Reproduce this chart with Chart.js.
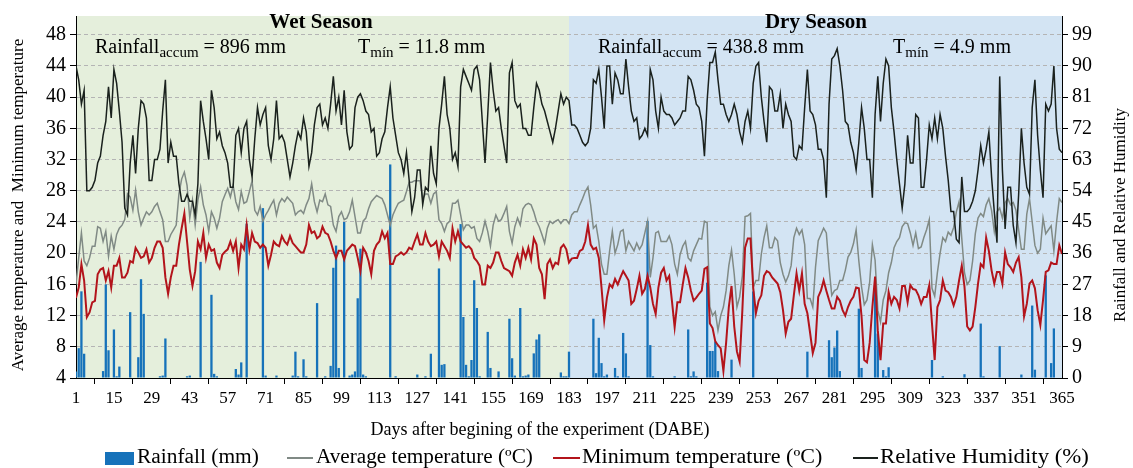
<!DOCTYPE html>
<html>
<head>
<meta charset="utf-8">
<script src="https://cdn.jsdelivr.net/npm/chart.js"></script>
<style>
  body { margin: 0; background: #fff; }
  #wrap { width: 1133px; height: 468px; }
</style>
</head>
<body>
<div id="wrap"><canvas id="climateChart"></canvas></div>
<script>
// days after beginning of the experiment
const days = [];
for (let d = 1; d <= 365; d++) days.push(d);

const dayTicks = [1, 15, 29, 43, 57, 71, 85, 99, 113, 127, 141, 155, 169, 183, 197, 211, 225, 239, 253, 267, 281, 295, 309, 323, 337, 351, 365];
const tempTicks = [4, 8, 12, 16, 20, 24, 28, 32, 36, 40, 44, 48];
const rightTicks = [0, 9, 18, 27, 36, 45, 54, 63, 72, 81, 90, 99];

// relative humidity (%)
const relHumidity = [
  90,86,79,83,54,54,55,57,62,64,70,74,84,75,89,85,77,68,49,47,
  62,70,59,72,80,79,75,57,57,63,63,66,77,86,62,68,64,64,56,51,
  51,53,51,51,47,56,80,74,69,63,83,78,69,71,67,65,62,55,55,70,
  72,65,72,74,63,58,69,78,73,76,78,67,63,69,80,69,70,68,63,58,
  62,67,71,69,75,71,61,65,73,78,79,73,75,72,79,87,77,81,73,83,
  71,66,67,78,81,82,80,77,76,71,72,64,65,69,71,78,84,75,70,65,
  63,59,65,57,48,52,60,60,50,55,54,67,59,56,72,79,87,76,72,63,
  65,61,84,89,87,85,83,89,90,86,74,62,76,91,83,77,78,72,67,62,
  88,91,80,78,79,72,72,70,70,78,85,83,79,77,74,71,68,72,77,82,
  79,81,80,73,73,72,70,68,67,68,72,86,85,89,81,72,90,90,79,88,
  86,82,82,92,84,77,74,75,69,70,72,70,89,86,77,72,81,77,76,76,
  75,73,74,75,77,77,87,86,83,79,78,74,64,80,91,91,94,86,79,79,
  76,74,76,79,76,71,68,74,77,72,85,90,91,81,74,68,84,83,77,77,
  82,72,79,76,74,64,63,67,66,78,89,77,76,73,66,66,63,52,79,92,
  93,95,90,83,74,73,68,65,60,68,78,72,63,63,52,76,87,74,85,92,
  90,78,71,63,56,49,56,70,62,62,76,75,55,55,63,73,69,75,69,76,
  72,64,57,48,48,40,39,58,48,48,49,51,54,60,67,62,66,71,58,48,
  39,87,60,43,55,55,44,39,53,72,62,55,53,78,86,70,60,52,79,77,
  79,90,72,66,65
];

// average temperature (ºC)
const avgTemp = [
  16,19.4,22.6,19,18.4,19.4,20.9,20.9,23.4,23.2,21.5,22.8,19.6,22.2,20.5,22.4,23.2,23.6,24.3,27.6,
  27.2,25.5,28.1,25.3,23.6,24.5,25.3,24.9,25.3,26,26.4,25.3,24.3,21.5,21.5,22.4,23,23.6,27.6,29.5,
  30.4,28.7,24.5,26.8,23.6,26.8,28.5,26.2,24.9,22.8,25.3,24.5,23.2,24.5,26.6,27.5,28.3,27.2,28.7,26.6,
  25.6,27.9,26.4,26.6,27.9,29.3,25.5,24.9,26,24.1,24.9,25.5,26.2,26.8,24.9,26.4,27,26.6,27.2,26.8,
  26.4,24.9,25.3,25.5,25.1,26.2,27,28.9,26.6,25.3,26.8,26.6,27.6,26.2,26,23.6,22.8,24.7,25.3,24.3,
  24.5,25.3,26.8,24.7,22.6,22.6,24.1,24.5,25.7,26.6,27,27.4,27.2,27,26.2,24.9,23.6,24.9,25.7,26.4,
  26.6,26.8,27.9,29.1,29.1,29.3,29.3,29.3,27,27.6,27.6,26.4,27.6,27.9,24.3,23.8,22.8,23.8,24.1,26.4,
  26.4,26.8,24.9,23,23.6,23.6,23.2,23.4,21.9,21.5,22.6,24.1,22.8,20.9,23.6,24.9,24.1,24.3,25.1,26,
  22.8,21.3,23.4,24.5,23.6,25.7,26.2,26.4,26.2,25.3,24.1,23.4,22.4,21.3,23.2,24.1,23.8,24.1,24.3,23.8,
  24.3,24.3,23.8,24.9,25.3,25.3,26.2,27,27.9,28.5,26.2,23.2,23.6,21.5,18.6,17.3,17.3,20.3,22.8,20,
  21.1,22.8,23,20.3,21.5,20.9,20.3,21.3,20.5,21.1,22.6,24.1,16.9,19.4,22.6,22.8,21.5,21.5,21.5,22.2,
  21.1,18.6,17.3,19.8,20.9,21.5,19.4,19,20.3,21.1,21.9,21.8,24.1,23.9,13.1,12,12.5,10.1,12,13.1,
  15.2,18.4,20.4,17.3,13.1,14.4,17.1,24.7,24.8,25.1,15.6,16.5,16.5,19.9,22,23.5,20.7,20.7,22,21.6,
  18.8,17.3,16.3,17.1,18.4,22,23.2,22.4,23,21.1,14.2,14.2,13.1,18.2,21.6,22.4,23.2,22.6,18.2,14.6,
  15.2,15.4,16.5,16.5,17.8,19.5,20.1,21.2,23,19,15.7,13.4,14,16.3,21.1,19.1,12.7,11.2,14,15.2,
  17.5,18.8,20.7,21.5,22,23.4,23.9,23.8,22.6,21,22.6,20.6,20.8,22,23,24.3,15.5,14.5,17.5,20,
  22,21.5,22.7,22.3,23.3,25.3,26.6,21.9,17.5,16,16.5,19,22.5,24.5,25.1,24.7,26.2,27,25.5,22.8,
  25.3,25.8,24.5,26.5,27,26.2,26.5,25.5,23,20.5,20.5,25,27,24,21,20,20.5,24.5,22.5,23,
  23.5,20.3,24,27,26.5
];

// minimum temperature (ºC)
const minTemp = [
  14.3,15.6,18.6,16.5,11.8,12.4,13.7,13.9,17.3,17.9,18.1,16.5,17.7,15.6,18.4,18.4,19.4,16.9,16.9,17.5,
  19,18.8,20.7,20.1,19.4,19.6,20.5,18.8,19.4,20.7,21.5,21.5,20.7,16.9,14.8,16.9,18.4,18.4,21.1,23.2,
  25.1,21.5,17.9,15.8,17.7,21.5,20.5,22.6,19.4,21.1,20.3,20.5,18.8,18.1,19.8,20.2,20.5,21.5,20.3,21.5,
  18.1,21.1,20.5,23.6,20.5,22.6,21.5,21.3,20.7,21.1,20.7,18.4,19.8,21.5,21.1,20.9,22.2,21.5,21.1,22.2,
  21.3,20.9,20.5,20.1,20.1,21.1,23.6,22.6,22.8,21.9,22.2,23.4,22.6,22.4,21.5,20.3,19.4,20.3,20.3,19.2,
  20.3,20.7,21.1,20.9,19.4,17.7,20.7,20.1,19,17.3,20.3,21.1,21.5,22.8,21.9,22.6,18.6,18.6,19.6,19.8,
  20.1,19.8,20.1,20.7,20.5,21.5,22.4,21.1,21.1,22.6,21.5,20.9,21.1,21.5,19.6,21.5,20.9,20.3,19.4,23.2,
  21.5,22.8,21.5,21.1,20.7,20.9,20.5,19.4,19,18.4,16,16,18.4,18.1,18.8,20.1,20.1,19,18.1,17.9,
  17.7,17.1,18.8,19.8,18.4,20.5,19.4,20.7,19.2,21.9,21.1,18.1,17.3,14.1,18.6,19.2,18.1,18.8,18.6,20.7,
  21.1,20.5,18.8,19.3,19.4,19.4,20.3,20.5,21.5,23.6,21.1,20.5,20.7,19.4,15.6,11.4,14.3,16,15.6,16.7,
  16,16.9,17.7,17.1,16.5,13.5,13.9,15.4,17.1,14.8,15.4,17.1,15.6,13.5,12.2,15.6,17.5,18.1,16.5,17.1,
  13.9,10.5,13.7,13.7,16,18.1,16.9,15.2,13.9,14.3,14.8,15.2,18,18.2,11,10.4,8.7,8.2,7.8,4.9,
  8.5,13.1,15.8,10.6,7.4,6.1,12.7,20.7,21.9,21.9,15.6,12.3,13.9,14.6,17.1,17.7,17.5,16.9,16.5,16.1,
  15,12.7,9.7,11.2,11.6,14.6,17.4,15.2,17.4,13.5,12.3,9.8,7.2,8.5,14.4,15.2,16.5,15.2,14,12.9,
  12.9,14.4,13.9,12.7,12,13.1,13.9,14.4,15.6,15.5,11.9,6.3,6,8.5,13.1,17,10.1,6.3,11,11,
  15,13.5,14.4,14,12.9,15.8,15.8,13.7,15.9,15.4,15.3,14.6,13.5,14.4,14.4,15.9,11,6.3,13.1,14,
  16.5,15.2,15,14.4,13.3,14.4,16.5,18.4,15.7,10.6,10.1,10.6,13.1,16.1,18.6,18.2,22,20.3,17.8,16.1,
  17.6,17.6,16.1,20.1,18.6,18.2,17.6,18.8,19.5,16.9,11.9,13.5,16.1,16.5,15.5,12.7,10.8,14,17.6,17.8,
  18.8,18.6,18.6,21,19.9
];

// rainfall (mm), only the days with rain
const rainDays = [1,2,3,4,11,12,13,15,16,17,21,24,25,26,32,33,34,42,43,47,51,52,53,60,61,62,64,70,71,75,
  81,82,83,85,86,90,93,95,96,97,98,100,102,103,104,105,106,107,108,117,119,127,130,132,135,136,137,
  143,144,145,146,147,148,149,150,153,154,157,161,162,163,165,166,167,168,170,171,172,180,181,182,183,
  192,193,194,195,196,197,200,201,203,204,205,212,213,214,222,227,228,229,230,234,235,236,237,238,
  243,251,271,279,280,281,282,283,290,291,296,297,299,300,301,317,321,329,335,336,342,350,354,355,
  359,361,362];
const rainMm = [1.9,8.6,25,7,2,27,8,14,0.5,3.3,19,6,28.5,18.5,0.5,0.7,11.4,0.5,0.7,33.5,24,1.2,0.5,2.6,1,4.5,44.5,49,0.7,0.7,
  0.7,7.6,0.5,5.4,0.5,21.6,0.5,3.5,31.8,38.2,2.9,45,0.7,1,1.9,23,37.3,1,0.5,61.6,0.5,1,0.5,7,31.6,3.8,4,
  44.4,17.6,3.8,0.5,5.2,28.2,20.2,0.5,13.3,2.9,1.9,17.1,5.7,0.7,20.2,0.5,0.7,1,7.1,11.1,12.6,1.6,0.5,0.5,7.6,
  17.1,1.4,11.6,4.3,0.5,1,2.9,0.5,13,7.1,0.5,45.3,9.5,0.5,0.5,14,0.5,1.9,0.5,27.5,7.8,7.8,10.5,2,
  5.3,25,7.6,10.9,6,8.8,13.7,2,20,2.9,27,12.8,2.3,0.5,3.1,5.2,0.5,1.1,15.7,0.5,9.2,1,20.9,2.4,
  29.6,4.3,14.3];

const seasonEnd = 183;
const serif = '"Liberation Serif", "Times New Roman", serif';

const colors = {
  rain: '#1672ba',
  avg: '#808a85',
  min: '#b3141b',
  hum: '#1a211d',
  wet: '#e5efdc',
  dry: '#d3e4f3'
};

// season shading behind everything
const seasonShade = {
  id: 'seasonShade',
  beforeDraw(chart) {
    const { ctx, chartArea, scales } = chart;
    const x0 = scales.x.getPixelForValue(1);
    const xm = scales.x.getPixelForValue(seasonEnd);
    const x1 = scales.x.getPixelForValue(365);
    ctx.save();
    ctx.fillStyle = colors.wet;
    ctx.fillRect(x0, chartArea.top, xm - x0, chartArea.bottom - chartArea.top);
    ctx.fillStyle = colors.dry;
    ctx.fillRect(xm, chartArea.top, x1 - xm, chartArea.bottom - chartArea.top);
    ctx.restore();
  }
};

function label(ctx, parts, x, y) {
  // parts: [text, size, bold, dy]
  let cx = x;
  parts.forEach(p => {
    ctx.font = (p[2] ? 'bold ' : '') + p[1] + 'px ' + serif;
    ctx.fillText(p[0], cx, y + (p[3] || 0));
    cx += ctx.measureText(p[0]).width;
  });
}

// text drawn a little wider than the font, like the original export
function wideText(ctx, str, x, y, stretch) {
  ctx.save();
  ctx.translate(x, y);
  ctx.scale(stretch, 1);
  ctx.fillText(str, 0, 0);
  ctx.restore();
}

const textLayer = {
  id: 'textLayer',
  afterDraw(chart) {
    const { ctx } = chart;
    ctx.save();
    ctx.fillStyle = '#000';
    ctx.textBaseline = 'alphabetic';

    ctx.textAlign = 'center';
    ctx.font = 'bold 21px ' + serif;
    ctx.fillText('Wet Season', 321, 28);
    ctx.fillText('Dry Season', 816, 28);

    ctx.textAlign = 'left';
    label(ctx, [['Rainfall', 20], ['accum', 15, false, 4], [' = 896 mm', 20]], 95, 53);
    label(ctx, [['T', 20], ['mín', 15, false, 4], [' = 11.8 mm', 20]], 358, 53);
    label(ctx, [['Rainfall', 20], ['accum', 15, false, 4], [' = 438.8 mm', 20]], 598, 53);
    label(ctx, [['T', 20], ['mín', 15, false, 4], [' = 4.9 mm', 20]], 893, 53);

    // axis titles
    ctx.textAlign = 'center';
    ctx.textBaseline = 'middle';
    ctx.font = '18px ' + serif;
    ctx.fillText('Days after begining of the experiment (DABE)', 540, 430);
    ctx.font = '17px ' + serif;
    ctx.save();
    ctx.translate(19, 205);
    ctx.rotate(-Math.PI / 2);
    ctx.fillText('Average temperature and  Minimum temperature', 0, 0);
    ctx.restore();
    ctx.save();
    ctx.translate(1121, 215);
    ctx.rotate(-Math.PI / 2);
    ctx.fillText('Rainfall and Relative Humidity', 0, 0);
    ctx.restore();

    // legend
    const ly = 458;
    ctx.textAlign = 'left';
    ctx.font = '20px ' + serif;
    ctx.fillStyle = colors.rain;
    ctx.fillRect(105, 452, 29, 13);
    ctx.lineWidth = 2;
    [[287, 313, colors.avg], [553, 580, colors.min], [853, 878, colors.hum]].forEach(l => {
      ctx.strokeStyle = l[2];
      ctx.beginPath();
      ctx.moveTo(l[0], ly);
      ctx.lineTo(l[1], ly);
      ctx.stroke();
    });
    ctx.fillStyle = '#000';
    wideText(ctx, 'Rainfall (mm)', 137, ly, 1.07);
    wideText(ctx, 'Average temperature (ºC)', 316, ly, 1.06);
    wideText(ctx, 'Minimum temperature (ºC)', 582, ly, 1.1);
    wideText(ctx, 'Relative Humidity (%)', 880, ly, 1.14);
    ctx.restore();
  }
};

const ctx = document.getElementById('climateChart');
const climateChart = new Chart(ctx, {
  type: 'bar',
  data: {
    datasets: [
      {
        type: 'line',
        label: 'Relative Humidity (%)',
        data: days.map((d, i) => ({ x: d, y: relHumidity[i] })),
        yAxisID: 'y1',
        borderColor: colors.hum,
        borderWidth: 1.5,
        pointRadius: 0,
        order: 1
      },
      {
        type: 'line',
        label: 'Minimum temperature (ºC)',
        data: days.map((d, i) => ({ x: d, y: minTemp[i] })),
        yAxisID: 'y',
        borderColor: colors.min,
        borderWidth: 2,
        pointRadius: 0,
        order: 2
      },
      {
        type: 'line',
        label: 'Average temperature (ºC)',
        data: days.map((d, i) => ({ x: d, y: avgTemp[i] })),
        yAxisID: 'y',
        borderColor: colors.avg,
        borderWidth: 1.5,
        pointRadius: 0,
        order: 3
      },
      {
        type: 'bar',
        label: 'Rainfall (mm)',
        data: rainDays.map((d, i) => ({ x: d, y: rainMm[i] })),
        yAxisID: 'y1',
        backgroundColor: colors.rain,
        barPercentage: 0.85,
        categoryPercentage: 1,
        order: 4
      }
    ]
  },
  options: {
    responsive: true,
    maintainAspectRatio: false,
    animation: false,
    layout: { padding: { top: 12, left: 0, right: 0, bottom: 0 } },
    plugins: {
      legend: { display: false },
      tooltip: { enabled: false }
    },
    scales: {
      x: {
        type: 'linear',
        min: 1,
        max: 365,
        offset: false,
        afterBuildTicks: s => { s.ticks = dayTicks.map(v => ({ value: v })); },
        afterFit: s => { s.height = 90; },
        grid: { drawOnChartArea: false, tickLength: 6, tickColor: '#000' },
        border: { color: '#000' },
        ticks: { font: { family: serif, size: 17 }, color: '#000', autoSkip: false, maxRotation: 0, padding: 4 }
      },
      y: {
        position: 'left',
        min: 4,
        max: 50.41,
        afterBuildTicks: s => { s.ticks = tempTicks.map(v => ({ value: v })); },
        afterFit: s => { s.width = 76; },
        grid: {
          color: c => (c.tick && c.tick.value === 4) ? 'rgba(0,0,0,0)' : '#b4b4b4',
          tickColor: '#000',
          tickLength: 6
        },
        border: { color: '#000', dash: [4, 3] },
        ticks: { font: { family: serif, size: 20 }, color: '#000', padding: 4 }
      },
      y1: {
        position: 'right',
        min: 0,
        max: 104.42,
        afterBuildTicks: s => { s.ticks = rightTicks.map(v => ({ value: v })); },
        afterFit: s => { s.width = 71; },
        grid: { drawOnChartArea: false, tickColor: '#000', tickLength: 6 },
        border: { color: '#000' },
        ticks: { font: { family: serif, size: 20 }, color: '#000', padding: 4 }
      }
    }
  },
  plugins: [seasonShade, textLayer]
});
</script>
</body>
</html>
